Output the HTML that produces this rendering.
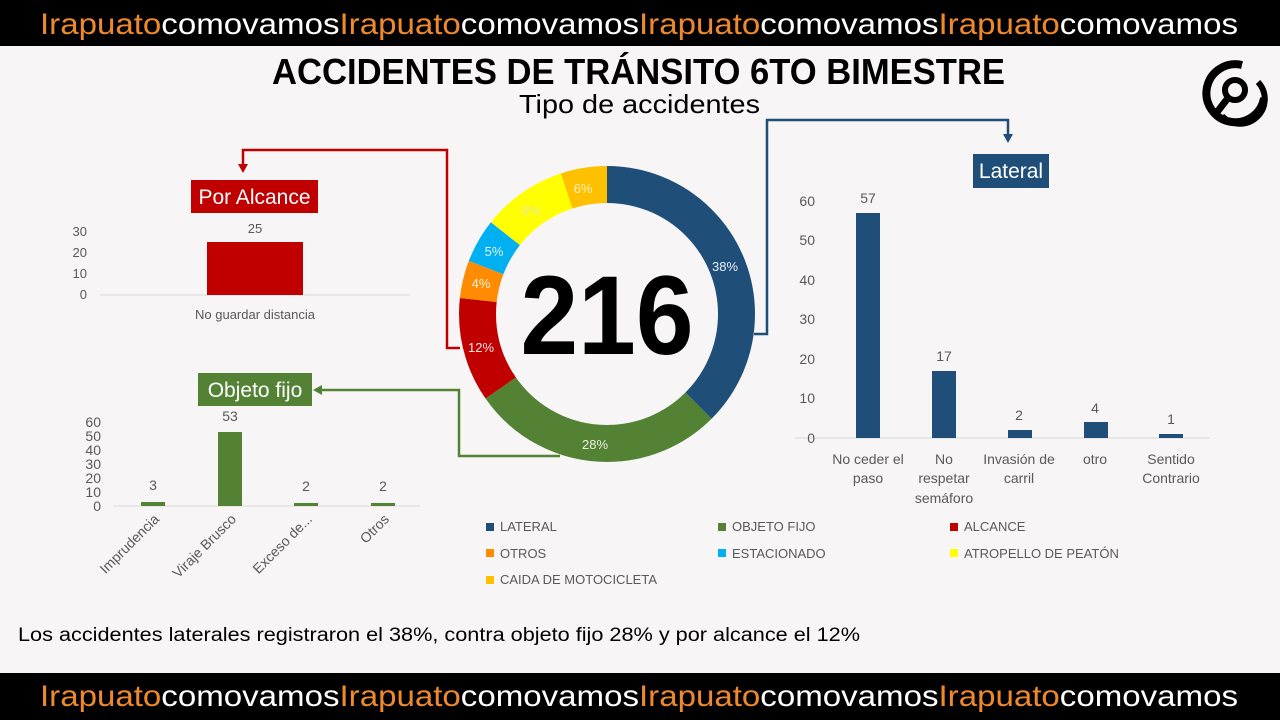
<!DOCTYPE html>
<html><head><meta charset="utf-8"><style>
html,body{margin:0;padding:0;background:#f7f5f6;}
svg{display:block;font-family:"Liberation Sans",sans-serif;}
</style></head><body>
<svg width="1280" height="720" viewBox="0 0 1280 720" xmlns="http://www.w3.org/2000/svg">
<rect width="1280" height="720" fill="#f7f5f6"/>
<rect x="0" y="0" width="1280" height="46" fill="#000"/>
<rect x="0" y="673" width="1280" height="47" fill="#000"/>
<g font-size="30" >
<text x="40" y="34" textLength="1198" lengthAdjust="spacingAndGlyphs"><tspan fill="#ef8a2c">Irapuato</tspan><tspan fill="#fff">comovamos</tspan><tspan fill="#ef8a2c">Irapuato</tspan><tspan fill="#fff">comovamos</tspan><tspan fill="#ef8a2c">Irapuato</tspan><tspan fill="#fff">comovamos</tspan><tspan fill="#ef8a2c">Irapuato</tspan><tspan fill="#fff">comovamos</tspan></text>
<text x="40" y="706" textLength="1198" lengthAdjust="spacingAndGlyphs"><tspan fill="#ef8a2c">Irapuato</tspan><tspan fill="#fff">comovamos</tspan><tspan fill="#ef8a2c">Irapuato</tspan><tspan fill="#fff">comovamos</tspan><tspan fill="#ef8a2c">Irapuato</tspan><tspan fill="#fff">comovamos</tspan><tspan fill="#ef8a2c">Irapuato</tspan><tspan fill="#fff">comovamos</tspan></text>
</g>
<text x="272" y="84" font-size="36" font-weight="bold" textLength="733" lengthAdjust="spacingAndGlyphs" fill="#000">ACCIDENTES DE TRÁNSITO 6TO BIMESTRE</text>
<text x="519" y="113" font-size="26" textLength="241" lengthAdjust="spacingAndGlyphs" fill="#000">Tipo de accidentes</text>
<!-- logo -->
<g fill="none" stroke="#000">
<path d="M1242 65 A29 29 0 1 0 1264 98" stroke-width="8"/>
<path d="M1258 82 A22 22 0 0 1 1222 116" stroke-width="6"/>
<circle cx="1235" cy="90" r="10" stroke-width="6"/>
<line x1="1228" y1="98" x2="1214" y2="116" stroke-width="7"/>
</g>
<g fill="none" stroke-width="2.5">
<polyline points="460,348 447,348 447,150 243,150 243,166" stroke="#c00000"/>
<polyline points="754,334 767,334 767,120 1008,120 1008,136" stroke="#1f4e79"/>
<polyline points="560,456 459,456 459,390 320,390" stroke="#548235"/>
</g>
<polygon points="238,164 248,164 243,173" fill="#c00000"/>
<polygon points="1003,134 1013,134 1008,143" fill="#1f4e79"/>
<polygon points="322,385 322,395 313,390" fill="#548235"/>
<g transform="rotate(-90 607 314)" fill="none" stroke-width="37">
<circle cx="607" cy="314" r="129.5" stroke="#1f4e79" stroke-dasharray="305.1 900" stroke-dashoffset="0"/>
<circle cx="607" cy="314" r="129.5" stroke="#548235" stroke-dasharray="226.2 900" stroke-dashoffset="-305.1"/>
<circle cx="607" cy="314" r="129.5" stroke="#c00000" stroke-dasharray="92.8 900" stroke-dashoffset="-531.3"/>
<circle cx="607" cy="314" r="129.5" stroke="#ff8c00" stroke-dasharray="33.4 900" stroke-dashoffset="-624.1"/>
<circle cx="607" cy="314" r="129.5" stroke="#00b0f0" stroke-dasharray="39.1 900" stroke-dashoffset="-657.5"/>
<circle cx="607" cy="314" r="129.5" stroke="#ffff00" stroke-dasharray="75.7 900" stroke-dashoffset="-696.6"/>
<circle cx="607" cy="314" r="129.5" stroke="#ffc000" stroke-dasharray="41.4 900" stroke-dashoffset="-772.3"/>
</g>
<g font-size="13" text-anchor="middle">
<text x="725" y="271" fill="#e8eef5">38%</text>
<text x="595" y="449" fill="#e8f0e0">28%</text>
<text x="481" y="352" fill="#fbe4e4">12%</text>
<text x="481" y="288" fill="#fff3e0">4%</text>
<text x="494" y="256" fill="#e0f6ff">5%</text>
<text x="531" y="215" fill="#e6e6a0">9%</text>
<text x="583" y="193" fill="#fff0c0">6%</text>
</g>
<text x="607" y="354" font-size="112" font-weight="bold" text-anchor="middle" textLength="173" lengthAdjust="spacingAndGlyphs" fill="#000">216</text>
<rect x="191" y="180" width="127" height="33" fill="#c00000"/>
<text x="254.5" y="204" font-size="21" fill="#fff" text-anchor="middle">Por Alcance</text>
<line x1="100" y1="295" x2="410" y2="295" stroke="#d9d9d9"/>
<rect x="207" y="242" width="96" height="53" fill="#c00000"/>
<g font-size="13" fill="#595959">
<text x="255" y="233" text-anchor="middle">25</text>
<text x="87" y="236" text-anchor="end">30</text>
<text x="87" y="257" text-anchor="end">20</text>
<text x="87" y="278" text-anchor="end">10</text>
<text x="87" y="299" text-anchor="end">0</text>
<text x="255" y="319" text-anchor="middle">No guardar distancia</text>
</g>
<rect x="198" y="373" width="114" height="33" fill="#548235"/>
<text x="255" y="397" font-size="21" fill="#fff" text-anchor="middle">Objeto fijo</text>
<line x1="113" y1="506" x2="420" y2="506" stroke="#d9d9d9"/>
<g fill="#548235">
<rect x="141" y="502" width="24" height="4"/>
<rect x="218" y="432" width="24" height="74"/>
<rect x="294" y="503" width="24" height="3"/>
<rect x="371" y="503" width="24" height="3"/>
</g>
<g font-size="14" fill="#595959">
<g text-anchor="end">
<text x="101" y="427">60</text><text x="101" y="441">50</text><text x="101" y="455">40</text>
<text x="101" y="469">30</text><text x="101" y="483">20</text><text x="101" y="497">10</text><text x="101" y="511">0</text>
</g>
<g text-anchor="middle">
<text x="153" y="490">3</text><text x="230" y="421">53</text><text x="306" y="491">2</text><text x="383" y="491">2</text>
</g>
<g text-anchor="end">
<text transform="translate(160,520) rotate(-45)">Imprudencia</text>
<text transform="translate(237,520) rotate(-45)">Viraje Brusco</text>
<text transform="translate(313,520) rotate(-45)">Exceso de...</text>
<text transform="translate(390,520) rotate(-45)">Otros</text>
</g>
</g>
<rect x="973" y="154" width="76" height="34" fill="#1f4e79"/>
<text x="1011" y="178" font-size="21" fill="#fff" text-anchor="middle">Lateral</text>
<line x1="795" y1="438" x2="1210" y2="438" stroke="#d9d9d9"/>
<g fill="#1f4e79">
<rect x="856" y="213" width="24" height="225"/>
<rect x="932" y="371" width="24" height="67"/>
<rect x="1008" y="430" width="24" height="8"/>
<rect x="1084" y="422" width="24" height="16"/>
<rect x="1159" y="434" width="24" height="4"/>
</g>
<g font-size="14" fill="#595959">
<g text-anchor="end">
<text x="815" y="206">60</text><text x="815" y="245">50</text><text x="815" y="285">40</text>
<text x="815" y="324">30</text><text x="815" y="364">20</text><text x="815" y="403">10</text><text x="815" y="443">0</text>
</g>
<g text-anchor="middle">
<text x="868" y="203">57</text><text x="944" y="361">17</text><text x="1019" y="420">2</text>
<text x="1095" y="413">4</text><text x="1171" y="424">1</text>
<text x="868" y="464">No ceder el</text><text x="868" y="483">paso</text>
<text x="944" y="464">No</text><text x="944" y="483">respetar</text><text x="944" y="503">semáforo</text>
<text x="1019" y="464">Invasión de</text><text x="1019" y="483">carril</text>
<text x="1095" y="464">otro</text>
<text x="1171" y="464">Sentido</text><text x="1171" y="483">Contrario</text>
</g>
</g>
<g font-size="13" fill="#595959">
<rect x="486" y="523" width="8" height="8" fill="#1f4e79"/><text x="500" y="531">LATERAL</text>
<rect x="718" y="523" width="8" height="8" fill="#548235"/><text x="732" y="531">OBJETO FIJO</text>
<rect x="950" y="523" width="8" height="8" fill="#c00000"/><text x="964" y="531">ALCANCE</text>
<rect x="486" y="549" width="8" height="8" fill="#ff8c00"/><text x="500" y="558">OTROS</text>
<rect x="718" y="549" width="8" height="8" fill="#00b0f0"/><text x="732" y="558">ESTACIONADO</text>
<rect x="950" y="549" width="8" height="8" fill="#ffff00"/><text x="964" y="558">ATROPELLO DE PEATÓN</text>
<rect x="486" y="576" width="8" height="8" fill="#ffc000"/><text x="500" y="584">CAIDA DE MOTOCICLETA</text>
</g>
<text x="18" y="641" font-size="19" fill="#000" textLength="842" lengthAdjust="spacingAndGlyphs">Los accidentes laterales registraron el 38%, contra objeto fijo 28% y por alcance el 12%</text>
</svg>
</body></html>
